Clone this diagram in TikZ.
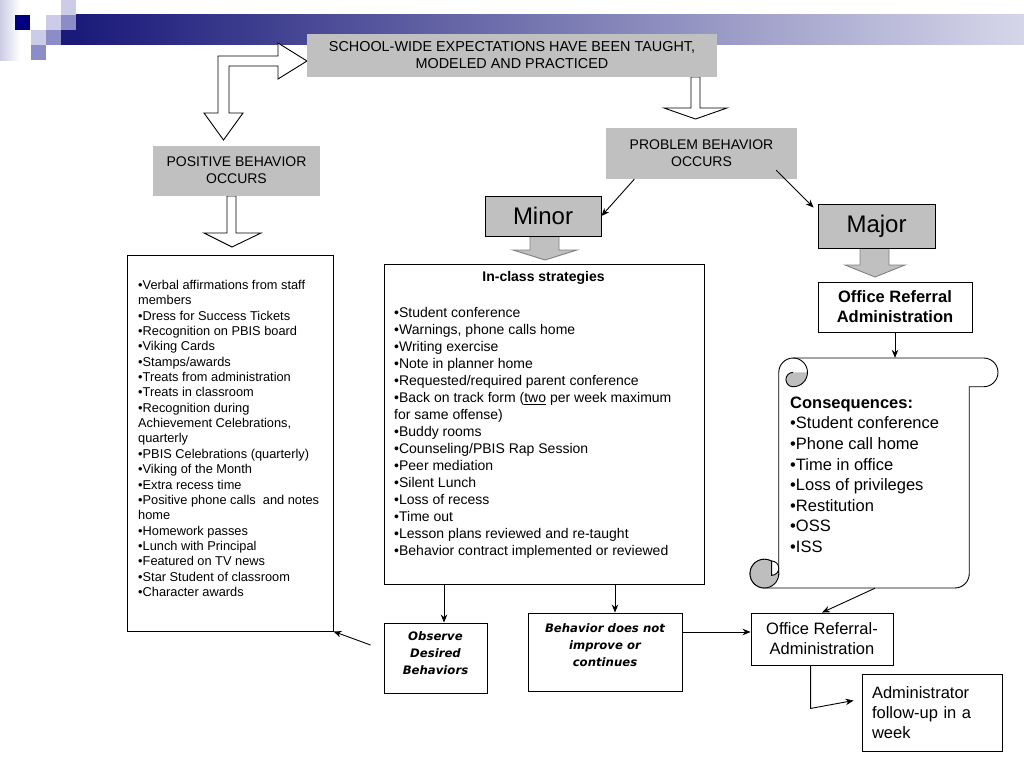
\documentclass[tikz,border=0pt]{standalone}
\usepackage{fontspec}
\setmainfont{Liberation Sans}
\newfontfamily\comicfont{DejaVu Sans}
\usetikzlibrary{arrows.meta,calc}
\definecolor{boxgray}{RGB}{192,192,192}
\definecolor{edgegray}{RGB}{128,128,128}
\definecolor{navysq}{RGB}{0,0,128}
\definecolor{barleft}{RGB}{26,26,122}
\definecolor{barright}{RGB}{214,214,234}
\definecolor{sqlight}{RGB}{204,204,230}
\definecolor{sqmid}{RGB}{140,140,200}
\definecolor{curlgray}{RGB}{190,190,190}
\newcommand\fsz[2]{\fontsize{#1}{#2}\selectfont}
\begin{document}
\begin{tikzpicture}[x=1pt,y=-1pt,line join=miter,
 graybox/.style={fill=boxgray, draw=none, inner sep=0pt, align=center, font=\fsz{14}{17}},
 linebox/.style={draw=black, line width=0.9pt, fill=white, inner sep=0pt},
 conn/.style={draw=black, line width=0.9pt, -{Stealth[length=8pt,width=6.5pt]}},
 whitearrow/.style={draw=black, fill=white, line width=0.9pt},
 grayarrow/.style={draw=edgegray, fill=boxgray, line width=0.9pt},
 sizebox/.style={draw=black, line width=0.9pt, fill=boxgray, inner sep=0pt, font=\fsz{24}{28}},
 listtext/.style={inner sep=0pt, anchor=north west, align=left},
 comic/.style={inner sep=0pt, align=center, font=\comicfont\bfseries\itshape\fsz{11.7}{17}}]
\useasboundingbox (0,0) rectangle (1024,768);
\fill[white] (0,0) rectangle (1024,768);

% decoration
\shade[left color=sqlight, right color=white] (0,0) rectangle (20,60);
\shade[left color=barleft, right color=barright] (76,15) rectangle (1024,45);
\fill[barleft] (61,30) rectangle (76,45);
\fill[navysq] (15,15) rectangle (30,30);
\fill[sqlight] (46,15) rectangle (61,30);
\fill[sqmid] (61,15) rectangle (76,30);
\fill[sqlight] (61,0) rectangle (76,15);
\fill[sqlight] (31,30) rectangle (46,45);
\fill[sqmid] (46,30) rectangle (61,45);
\fill[sqmid] (31,45) rectangle (46,60);

% white block arrows
\draw[whitearrow] (218,113) -- (218,56) -- (278,56) -- (278,43) -- (307,61) -- (278,79) -- (278,66) -- (229,66) -- (229,113) -- (243,113) -- (223.5,140) -- (204,113) -- cycle;
\draw[whitearrow] (691,77) -- (691,108) -- (664,108) -- (695.5,119) -- (727,108) -- (700,108) -- (700,77) -- cycle;
\draw[whitearrow] (227,196) -- (227,233) -- (204,233) -- (232,247) -- (261,233) -- (236,233) -- (236,196) -- cycle;

% gray block arrows
\draw[grayarrow] (530,236) -- (530,250) -- (513,250) -- (545,260) -- (577,250) -- (559,250) -- (559,236) -- cycle;
\draw[grayarrow] (860,248) -- (860,265) -- (845,265) -- (875,277) -- (905,265) -- (889,265) -- (889,248) -- cycle;

% gray boxes
\node[graybox, font=\fsz{14.4}{17}, minimum width=410pt, minimum height=43pt] (school) at (512,55.5) {SCHOOL-WIDE EXPECTATIONS HAVE BEEN TAUGHT,\\MODELED AND PRACTICED};
\node[graybox, minimum width=167pt, minimum height=50pt] (positive) at (236.5,170.5) {POSITIVE BEHAVIOR\\OCCURS};
\node[graybox, minimum width=191pt, minimum height=51pt] (problem) at (701.5,153.5) {PROBLEM BEHAVIOR\\OCCURS};
\node[sizebox, minimum width=116pt, minimum height=40pt] (minor) at (543,216) {Minor};
\node[sizebox, minimum width=117pt, minimum height=44pt] (major) at (876.5,226) {Major};

% list boxes
\node[linebox, minimum width=206pt, minimum height=376pt] (leftlist) at (230,443) {};
\node[listtext, font=\fsz{12.8}{15.35}] (lefttext) at (138,280) {•Verbal affirmations from staff\\members\\•Dress for Success Tickets\\•Recognition on PBIS board\\•Viking Cards\\•Stamps/awards\\•Treats from administration\\•Treats in classroom\\•Recognition during\\Achievement Celebrations,\\quarterly\\•PBIS Celebrations (quarterly)\\•Viking of the Month\\•Extra recess time\\•Positive phone calls\ \ and notes\\home\\•Homework passes\\•Lunch with Principal\\•Featured on TV news\\•Star Student of classroom\\•Character awards};

\node[linebox, minimum width=320pt, minimum height=320pt] (inclass) at (544,424) {};
\node[inner sep=0pt, font=\bfseries\fsz{14}{17}] (ictitle) at (543.5,278) {In-class strategies};
\node[listtext, font=\fsz{14}{17}] (ictext) at (394,307.5) {•Student conference\\•Warnings, phone calls home\\•Writing exercise\\•Note in planner home\\•Requested/required parent conference\\•Back on track form (\underline{two} per week maximum\\for same offense)\\•Buddy rooms\\•Counseling/PBIS Rap Session\\•Peer mediation\\•Silent Lunch\\•Loss of recess\\•Time out\\•Lesson plans reviewed and re-taught\\•Behavior contract implemented or reviewed};

\node[linebox, minimum width=154pt, minimum height=50pt, align=center, font=\bfseries\fsz{16.5}{20}] (officeA) at (895,307) {Office Referral\\Administration};

% scroll
\node[inner sep=0pt, minimum width=248pt, minimum height=230pt] (scroll) at (874,473) {};
\begin{scope}[line width=0.9pt]
\filldraw[fill=white, draw=black] (778.75,573.6) -- (778.75,372.4) arc[start angle=180, end angle=270, radius=14.375] -- (983.6,358) arc[start angle=270, end angle=450, radius=14.375] -- (969.25,386.75) -- (969.25,573.6) arc[start angle=0, end angle=90, radius=14.375] -- (764.4,588) arc[start angle=90, end angle=360, radius=14.375] -- cycle;
\fill[curlgray] (807.5,372.4) arc[start angle=0, end angle=90, radius=14.375] arc[start angle=90, end angle=270, radius=7.1875] -- cycle;
\draw (793.1,358) arc[start angle=270, end angle=450, radius=14.375];
\draw (793.1,386.75) arc[start angle=90, end angle=270, radius=7.1875];
\filldraw[fill=curlgray, draw=black] (764.4,573.6) circle[radius=14.375];
\filldraw[fill=white, draw=black] (771.6,561) arc[start angle=270, end angle=450, radius=7.1875] -- cycle;
\end{scope}
\node[listtext, font=\fsz{16.5}{20.6}] (constext) at (790,396.5) {\textbf{Consequences:}\\•Student conference\\•Phone call home\\•Time in office\\•Loss of privileges\\•Restitution\\•OSS\\•ISS};

% bottom boxes
\node[linebox, minimum width=103pt, minimum height=70pt] (observe) at (435.5,658) {};
\node[comic] (observetext) at (435.5,653.5) {Observe\\Desired\\Behaviors};
\node[linebox, minimum width=154pt, minimum height=78pt] (behavior) at (605,652) {};
\node[comic] (behaviortext) at (605,645) {Behavior does not\\improve or\\continues};
\node[linebox, minimum width=142pt, minimum height=52pt, align=center, font=\fsz{16.5}{20}] (office2) at (822,639) {Office Referral-\\Administration};
\node[linebox, minimum width=140pt, minimum height=77pt, text width=120pt, align=left, font=\fsz{16.5}{20}] (admin) at (932,712.5) {Administrator\\follow-up in a\\week};

% connectors
\draw[conn] ($(problem.south west)+(28.5,0)$) -- (minor.east);
\draw[conn] ($(problem.south east)+(-21,-9)$) -- ($(major.north west)+(-4,4)$);
\draw[conn] (officeA.south) -- (officeA.south |- scroll.north);
\draw[conn] ($(scroll.south)+(1,0)$) -- (office2.north);
\coordinate (oa) at ($(observe.north)+(8.5,0)$);
\draw[conn] (inclass.south -| oa) -- (oa);
\coordinate (ba) at ($(behavior.north)+(10,0)$);
\draw[conn] (inclass.south -| ba) -- (ba);
\coordinate (b2o) at ($(behavior.east)+(0,-20)$);
\draw[conn] (b2o) -- (b2o -| office2.west);
\draw[conn] ($(office2.south west)+(60,0)$) -- ++(0,43) -- ($(admin.west)+(-8,-12)$);
\draw[conn] ($(observe.west)+(-13,-13)$) -- (leftlist.south east);
\end{tikzpicture}
\end{document}
